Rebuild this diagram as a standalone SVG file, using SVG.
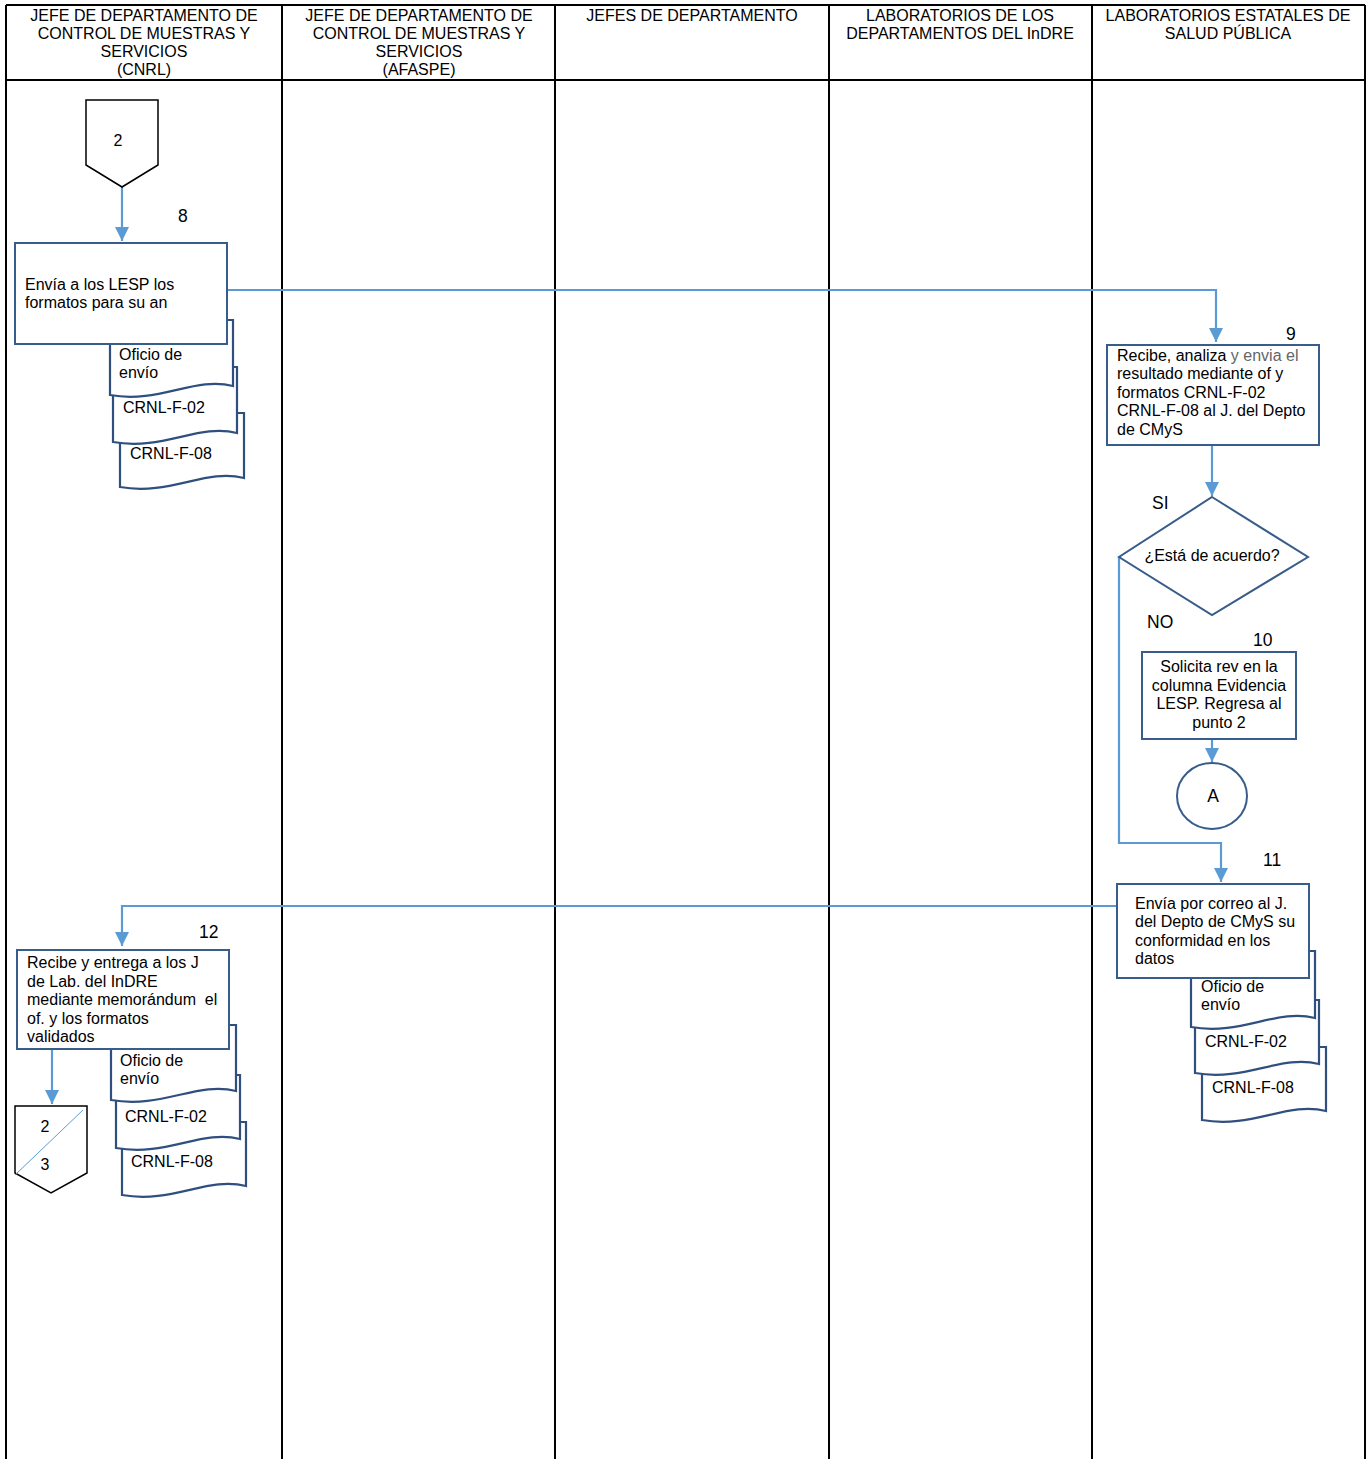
<svg xmlns="http://www.w3.org/2000/svg" width="1370" height="1459" viewBox="0 0 1370 1459">
<style>
text{font-family:"Liberation Sans",Arial,sans-serif;fill:#000}
.hd{font-size:16px;text-anchor:middle}
.t{font-size:16px}
.c{text-anchor:middle}
.num{font-size:17.5px}
.lane{stroke:#000;stroke-width:2;fill:none}
.box{fill:#fff;stroke:#385D8A;stroke-width:2}
.doc{fill:#fff;stroke:#2F4F7F;stroke-width:2.2}
.conn{fill:none;stroke:#5B9BD5;stroke-width:2.2}
.off{fill:#fff;stroke:#000;stroke-width:1.5}
</style>
<defs>
<marker id="ah" viewBox="0 0 10 10" refX="10" refY="5" markerWidth="14" markerHeight="14" markerUnits="userSpaceOnUse" orient="auto">
<path d="M0,0 L10,5 L0,10 Z" fill="#5B9BD5"/>
</marker>
</defs>
<rect width="1370" height="1459" fill="#fff"/>
<g id="lanes">
<path class="lane" d="M6,5 H1365 M6,80 H1365 M6,5 V1459 M282,5 V1459 M555,5 V1459 M829,5 V1459 M1092,5 V1459 M1365,5 V1459"/>
<text class="hd" x="144" y="21">JEFE DE DEPARTAMENTO DE</text>
<text class="hd" x="144" y="39">CONTROL DE MUESTRAS Y</text>
<text class="hd" x="144" y="57">SERVICIOS</text>
<text class="hd" x="144" y="75">(CNRL)</text>
<text class="hd" x="419" y="21">JEFE DE DEPARTAMENTO DE</text>
<text class="hd" x="419" y="39">CONTROL DE MUESTRAS Y</text>
<text class="hd" x="419" y="57">SERVICIOS</text>
<text class="hd" x="419" y="75">(AFASPE)</text>
<text class="hd" x="692" y="21">JEFES DE DEPARTAMENTO</text>
<text class="hd" x="960" y="21">LABORATORIOS DE LOS</text>
<text class="hd" x="960" y="39">DEPARTAMENTOS DEL InDRE</text>
<text class="hd" x="1228" y="21">LABORATORIOS ESTATALES DE</text>
<text class="hd" x="1228" y="39">SALUD PÚBLICA</text>
</g>
<g id="connectors">
<path class="conn" d="M122,187 V241" marker-end="url(#ah)"/>
<path class="conn" d="M227,290 H1216 V342" marker-end="url(#ah)"/>
<path class="conn" d="M1212,445 V496" marker-end="url(#ah)"/>
<path class="conn" d="M1119,557 V843 H1221 V882" marker-end="url(#ah)"/>
<path class="conn" d="M1212,739 V762" marker-end="url(#ah)"/>
<path class="conn" d="M1117,906 H122 V946" marker-end="url(#ah)"/>
<path class="conn" d="M52,1049 V1104" stroke-width="3" marker-end="url(#ah)"/>
</g>
<g id="n2">
<path class="off" d="M86,100 H158 V165 L122,187 L86,165 Z"/>
<text class="t c" x="118" y="146">2</text>
</g>
<g id="n8">
<path class="doc" d="M120,413 H244 V478 C206,468 170,496 120,487 Z"/>
<text class="t" x="130" y="459">CRNL-F-08</text>
<path class="doc" d="M113,367 H237 V433 C199,423 163,451 113,442 Z"/>
<text class="t" x="123" y="413">CRNL-F-02</text>
<path class="doc" d="M110,320 H233 V386 C195,376 159,404 110,395 Z"/>
<text class="t" x="119" y="360">Oficio de</text>
<text class="t" x="119" y="378">envío</text>
<rect class="box" x="15" y="243" width="212" height="101"/>
<text class="t" x="25" y="290">Envía a los LESP los</text>
<text class="t" x="25" y="308">formatos para su an</text>
<text class="num" x="178" y="222">8</text>
</g>
<g id="n9">
<rect class="box" x="1107" y="345" width="212" height="100"/>
<text class="t" x="1117" y="361">Recibe, analiza <tspan fill="#666">y envia el</tspan></text>
<text class="t" x="1117" y="379">resultado mediante of y</text>
<text class="t" x="1117" y="398">formatos CRNL-F-02</text>
<text class="t" x="1117" y="416">CRNL-F-08 al J. del Depto</text>
<text class="t" x="1117" y="435">de CMyS</text>
<text class="num" x="1286" y="340">9</text>
</g>
<g id="decision">
<path class="box" d="M1212,497 L1308,557 L1212,615 L1119,557 Z" fill="#fff"/>
<text class="t c" x="1212" y="561">¿Está de acuerdo?</text>
<text class="num" x="1152" y="509">SI</text>
<text class="num" x="1147" y="628">NO</text>
</g>
<g id="n10">
<rect class="box" x="1142" y="652" width="154" height="87"/>
<text class="t c" x="1219" y="672">Solicita rev en la</text>
<text class="t c" x="1219" y="691">columna Evidencia</text>
<text class="t c" x="1219" y="709">LESP. Regresa al</text>
<text class="t c" x="1219" y="728">punto 2</text>
<text class="num" x="1253" y="646">10</text>
</g>
<g id="nA">
<ellipse class="box" cx="1212" cy="796" rx="35" ry="33"/>
<text class="num c" x="1213" y="802">A</text>
</g>
<g id="n11">
<path class="doc" d="M1202,1047 H1326 V1111 C1288,1101 1252,1129 1202,1120 Z"/>
<text class="t" x="1212" y="1093">CRNL-F-08</text>
<path class="doc" d="M1195,1000 H1319 V1064 C1281,1054 1245,1082 1195,1073 Z"/>
<text class="t" x="1205" y="1047">CRNL-F-02</text>
<path class="doc" d="M1191,951 H1315 V1018 C1277,1008 1241,1036 1191,1027 Z"/>
<text class="t" x="1201" y="992">Oficio de</text>
<text class="t" x="1201" y="1010">envío</text>
<rect class="box" x="1117" y="884" width="192" height="94"/>
<text class="t" x="1135" y="909">Envía por correo al J.</text>
<text class="t" x="1135" y="927">del Depto de CMyS su</text>
<text class="t" x="1135" y="946">conformidad en los</text>
<text class="t" x="1135" y="964">datos</text>
<text class="num" x="1263" y="866">11</text>
</g>
<g id="n12">
<path class="doc" d="M122,1122 H246 V1186 C208,1176 172,1204 122,1195 Z"/>
<text class="t" x="131" y="1167">CRNL-F-08</text>
<path class="doc" d="M116,1075 H240 V1139 C202,1129 166,1157 116,1148 Z"/>
<text class="t" x="125" y="1122">CRNL-F-02</text>
<path class="doc" d="M111,1025 H236 V1091 C198,1081 162,1109 111,1100 Z"/>
<text class="t" x="120" y="1066">Oficio de</text>
<text class="t" x="120" y="1084">envío</text>
<rect class="box" x="17" y="950" width="212" height="99"/>
<text class="t" x="27" y="968">Recibe y entrega a los J</text>
<text class="t" x="27" y="987">de Lab. del InDRE</text>
<text class="t" x="27" y="1005">mediante memorándum&#160; el</text>
<text class="t" x="27" y="1024">of. y los formatos</text>
<text class="t" x="27" y="1042">validados</text>
<text class="num" x="199" y="938">12</text>
</g>
<g id="n23">
<path class="off" d="M15,1106 H87 V1173 L51,1193 L15,1173 Z"/>
<line x1="15" y1="1175" x2="83" y2="1110" stroke="#5B9BD5" stroke-width="1"/>
<text class="t c" x="45" y="1132">2</text>
<text class="t c" x="45" y="1170">3</text>
</g>
</svg>
